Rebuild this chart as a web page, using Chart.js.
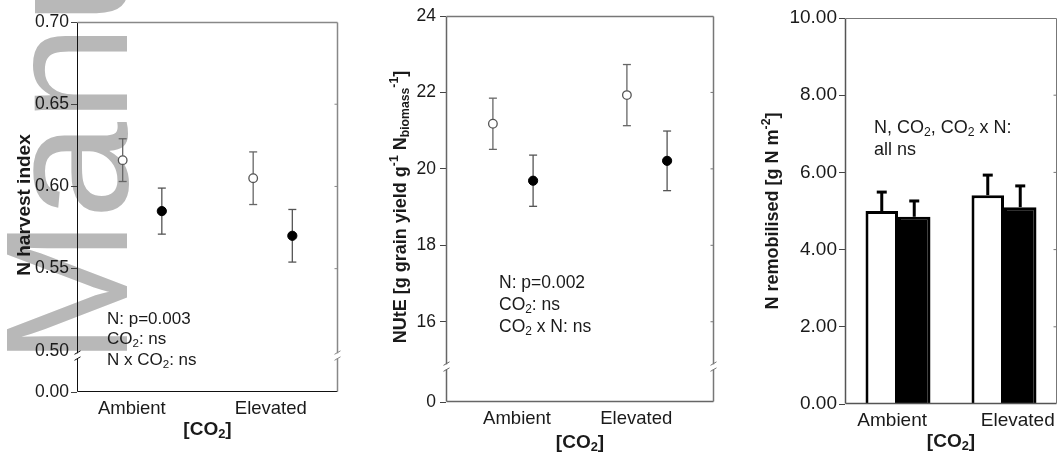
<!DOCTYPE html>
<html>
<head>
<meta charset="utf-8">
<script src="https://cdn.jsdelivr.net/npm/chart.js@4.4.0/dist/chart.umd.min.js"></script>
<style>
    html, body { margin: 0; padding: 0; background: #fff; }
    #wrap { position: relative; width: 1064px; height: 457px; overflow: hidden; }
    canvas { position: absolute; top: 0; }
    #wm { left: 0; }
    #c1 { left: 0; }
    #c2 { left: 360px; }
    #c3 { left: 720px; }
</style>
</head>
<body>
<div id="wrap">
    <canvas id="wm" width="360" height="457" style="width:360px;height:457px"></canvas>
    <canvas id="c1" width="360" height="457" style="width:360px;height:457px"></canvas>
    <canvas id="c2" width="360" height="457" style="width:360px;height:457px"></canvas>
    <canvas id="c3" width="344" height="457" style="width:344px;height:457px"></canvas>
</div>
<script>
// ----- DATA -----
const categories = ['Ambient', 'Elevated'];
const catCentre = [1, 3];          // category centres on the point panels' x axis (0..4)
const pairOffset = 0.3;            // open point left, filled point right

// N harvest index
const nhiOpen = [0.616, 0.605];
const nhiOpenErr = [0.013, 0.016];
const nhiFilled = [0.585, 0.570];
const nhiFilledErr = [0.014, 0.016];
const nhiTicks = [0.475, 0.50, 0.55, 0.60, 0.65, 0.70];
const nhiTickLabels = ['0.00', '0.50', '0.55', '0.60', '0.65', '0.70'];
const nhiBreak = 0.497;
const nhiLabelPos = [0.84, 2.97];

// NUtE
const nuteOpen = [21.18, 21.93];
const nuteOpenErr = [0.67, 0.80];
const nuteFilled = [19.69, 20.21];
const nuteFilledErr = [0.67, 0.78];
const nuteTicks = [13.9, 16, 18, 20, 22, 24];
const nuteTickLabels = ['0', '16', '18', '20', '22', '24'];
const nuteBreak = 14.82;
const nuteLabelPos = [1.06, 2.84];

// N remobilised
const remOpen = [5.00, 5.41];
const remOpenErr = [0.49, 0.52];
const remFilled = [4.85, 5.10];
const remFilledErr = [0.41, 0.55];
const remLabelPos = [0.89, 3.26];

const FONT = '"Liberation Sans", Arial, Helvetica, sans-serif';
const TXT = '#1a1a1a';

// ----- HELPERS -----
// parts: [[text, kind]], kind '' | 'sub' | 'sup'
function drawRich(ctx, parts, x, y, size, weight, align) {
    let w = 0;
    parts.forEach(([t, k]) => {
        ctx.font = `${weight} ${k ? size * 0.68 : size}px ${FONT}`;
        w += ctx.measureText(t).width;
    });
    let cx = align === 'center' ? x - w / 2 : x;
    ctx.textAlign = 'left';
    ctx.textBaseline = 'middle';
    ctx.fillStyle = TXT;
    parts.forEach(([t, k]) => {
        ctx.font = `${weight} ${k ? size * 0.68 : size}px ${FONT}`;
        const dy = k === 'sub' ? size * 0.26 : k === 'sup' ? -size * 0.34 : 0;
        ctx.fillText(t, cx, y + dy);
        cx += ctx.measureText(t).width;
    });
}

function drawRotated(ctx, parts, x, y, size) {
    ctx.save();
    ctx.translate(x, y);
    ctx.rotate(-Math.PI / 2);
    drawRich(ctx, parts, 0, 0, size, 'bold', 'center');
    ctx.restore();
}

function line(ctx, x1, y1, x2, y2) {
    ctx.beginPath();
    ctx.moveTo(x1, y1);
    ctx.lineTo(x2, y2);
    ctx.stroke();
}

function drawPointErrors(chart, errs, colors) {
    const ctx = chart.ctx;
    const ys = chart.scales.y;
    errs.forEach((err, di) => {
        const meta = chart.getDatasetMeta(di);
        const vals = chart.data.datasets[di].data;
        ctx.save();
        ctx.strokeStyle = colors[di];
        ctx.lineWidth = 1.3;
        meta.data.forEach((pt, i) => {
            const top = ys.getPixelForValue(vals[i].y + err[i]);
            const bot = ys.getPixelForValue(vals[i].y - err[i]);
            line(ctx, pt.x, top, pt.x, bot);
            line(ctx, pt.x - 4, top, pt.x + 4, top);
            line(ctx, pt.x - 4, bot, pt.x + 4, bot);
        });
        ctx.restore();
    });
}

function drawBarErrors(chart, errs) {
    const ctx = chart.ctx;
    const ys = chart.scales.y;
    errs.forEach((err, di) => {
        const meta = chart.getDatasetMeta(di);
        const vals = chart.data.datasets[di].data;
        ctx.save();
        ctx.strokeStyle = '#000';
        ctx.lineWidth = 3;
        meta.data.forEach((bar, i) => {
            const base = ys.getPixelForValue(vals[i]);
            const top = ys.getPixelForValue(vals[i] + err[i]);
            line(ctx, bar.x, base, bar.x, top);
            line(ctx, bar.x - 5, top, bar.x + 5, top);
        });
        ctx.restore();
    });
}

function decor(cfg) {
    return {
        id: 'decor',
        beforeDatasetsDraw(chart) {
            if (cfg.pointErrors) drawPointErrors(chart, cfg.pointErrors, cfg.errColors);
        },
        afterDatasetsDraw(chart) {
            if (cfg.barErrors) drawBarErrors(chart, cfg.barErrors);
        },
        afterDraw(chart) {
            const ctx = chart.ctx;
            const a = chart.chartArea;
            const ys = chart.scales.y;
            const L = Math.round(a.left) + 0.5, R = Math.round(a.right) - 0.5;
            const T = Math.round(a.top) + 0.5, B = Math.round(a.bottom) - 0.5;
            ctx.save();
            // frame
            ctx.lineWidth = cfg.frame.w1;
            ctx.strokeStyle = cfg.frame.c1;
            line(ctx, L, T, L, B);
            line(ctx, L, B, R, B);
            ctx.lineWidth = cfg.frame.w2;
            ctx.strokeStyle = cfg.frame.c2;
            line(ctx, L, T, R, T);
            line(ctx, R, T, R, B);
            // inner ticks on the right side
            ctx.lineWidth = 1;
            ys.ticks.forEach(t => {
                const y = ys.getPixelForValue(t.value);
                if (y > a.top + 2 && y < a.bottom - 2 && t.value !== cfg.skipRightTick) line(ctx, R - 3, y, R, y);
            });
            // axis breaks
            if (cfg.breakVal !== undefined) {
                const yb = ys.getPixelForValue(cfg.breakVal);
                [[L, cfg.frame.c1], [R, cfg.frame.c2]].forEach(([x, c]) => {
                    ctx.fillStyle = '#fff';
                    ctx.fillRect(x - 2, yb - 2.5, 4, 5);
                    ctx.strokeStyle = c;
                    ctx.lineWidth = 1;
                    line(ctx, x - 3, yb - 1.5, x + 3, yb - 5);
                    line(ctx, x - 3, yb + 4.5, x + 3, yb + 1);
                });
            }
            ctx.restore();
            // texts
            drawRotated(ctx, cfg.yTitle.parts, cfg.yTitle.x, cfg.yTitle.y, cfg.yTitle.size);
            drawRich(ctx, co2Title, (a.left + a.right) / 2, cfg.xTitleY, 19, 'bold', 'center');
            cfg.notes.lines.forEach((p, i) => {
                drawRich(ctx, p, cfg.notes.x, cfg.notes.y + i * cfg.notes.gap, cfg.notes.size, 'normal', 'left');
            });
        }
    };
}

const co2Title = [['[CO', ''], ['2', 'sub'], [']', '']];

// linear bottom axis used only to place the category names
function labelAxis(pos, height, size, pad) {
    return {
        type: 'linear', position: 'bottom', min: 0, max: 4, offset: false,
        afterBuildTicks: s => { s.ticks = pos.map(v => ({ value: v })); },
        afterFit: s => { s.height = height; },
        ticks: { callback: (v, i) => categories[i], color: TXT, font: { family: FONT, size: size }, padding: pad, autoSkip: false, maxRotation: 0 },
        grid: { display: false, offset: false },
        border: { display: false }
    };
}

function pointChart(id, o) {
    const openPts = categories.map((c, i) => ({ x: catCentre[i] - pairOffset, y: o.open[i] }));
    const filledPts = categories.map((c, i) => ({ x: catCentre[i] + pairOffset, y: o.filled[i] }));
    return new Chart(document.getElementById(id), {
        type: 'scatter',
        data: {
            datasets: [
                { data: openPts, pointRadius: 4.3, pointBackgroundColor: '#fff', pointBorderColor: '#555', pointBorderWidth: 1.3 },
                { data: filledPts, pointRadius: 4.6, pointBackgroundColor: '#000', pointBorderColor: '#000', pointBorderWidth: 1 }
            ]
        },
        options: {
            responsive: false,
            animation: false,
            events: [],
            layout: { padding: { left: 0, top: o.top, right: o.right, bottom: 0 } },
            plugins: { legend: { display: false }, tooltip: { enabled: false } },
            scales: {
                x: labelAxis(o.labelPos, o.xHeight, 18.5, -2),
                y: {
                    type: 'linear', min: o.ticks[0], max: o.ticks[o.ticks.length - 1],
                    afterBuildTicks: s => { s.ticks = o.ticks.map(v => ({ value: v })); },
                    afterFit: s => { s.width = o.yWidth; },
                    ticks: { callback: (v, i) => o.tickLabels[i], color: TXT, font: { family: FONT, size: 17.5 }, padding: o.tickPad },
                    grid: {
                        drawOnChartArea: false, drawTicks: true, tickLength: 6,
                        tickColor: c => (c.tick && c.tick.value === o.skipTick) ? 'rgba(0,0,0,0)' : '#444'
                    },
                    border: { display: false }
                }
            }
        },
        plugins: [decor(o.decor)]
    });
}

// ----- WATERMARK -----
(function () {
    const ctx = document.getElementById('wm').getContext('2d');
    ctx.save();
    ctx.translate(127, 365);
    ctx.rotate(-Math.PI / 2);
    ctx.fillStyle = '#b8b8b8';
    ctx.font = `175px ${FONT}`;
    ctx.textBaseline = 'alphabetic';
    ctx.fillText('Manu', 0, 0);
    ctx.restore();
})();

// ----- PANEL 1: N harvest index -----
pointChart('c1', {
    open: nhiOpen, filled: nhiFilled, labelPos: nhiLabelPos,
    ticks: nhiTicks, tickLabels: nhiTickLabels, skipTick: 0.50,
    top: 22, right: 22, xHeight: 65, yWidth: 77, tickPad: 2,
    decor: {
        pointErrors: [nhiOpenErr, nhiFilledErr], errColors: ['#666', '#555'],
        frame: { c1: '#111', w1: 1, c2: '#888', w2: 1.5 },
        breakVal: nhiBreak, skipRightTick: 0.50,
        yTitle: { parts: [['N harvest index', '']], x: 25, y: 205, size: 19 },
        xTitleY: 430,
        notes: {
            x: 107, y: 319, gap: 20.5, size: 17,
            lines: [
                [['N: p=0.003', '']],
                [['CO', ''], ['2', 'sub'], [': ns', '']],
                [['N x CO', ''], ['2', 'sub'], [': ns', '']]
            ]
        }
    }
});

// ----- PANEL 2: NUtE -----
pointChart('c2', {
    open: nuteOpen, filled: nuteFilled, labelPos: nuteLabelPos,
    ticks: nuteTicks, tickLabels: nuteTickLabels, skipTick: null,
    top: 16, right: 6, xHeight: 55, yWidth: 86, tickPad: 4,
    decor: {
        pointErrors: [nuteOpenErr, nuteFilledErr], errColors: ['#666', '#555'],
        frame: { c1: '#666', w1: 1.5, c2: '#777', w2: 1.5 },
        breakVal: nuteBreak,
        yTitle: {
            parts: [['NUtE [g grain yield g', ''], ['-1', 'sup'], [' N', ''], ['biomass', 'sub'], ['-1', 'sup'], [']', '']],
            x: 41, y: 207, size: 18
        },
        xTitleY: 443,
        notes: {
            x: 139, y: 283, gap: 22, size: 17.5,
            lines: [
                [['N: p=0.002', '']],
                [['CO', ''], ['2', 'sub'], [': ns', '']],
                [['CO', ''], ['2', 'sub'], [' x N: ns', '']]
            ]
        }
    }
});

// ----- PANEL 3: N remobilised -----
new Chart(document.getElementById('c3'), {
    type: 'bar',
    data: {
        labels: categories,
        datasets: [
            { data: remOpen, backgroundColor: '#fff', borderColor: '#000', borderWidth: 3 },
            { data: remFilled, backgroundColor: '#000', borderColor: '#000', borderWidth: 3 }
        ]
    },
    options: {
        responsive: false,
        animation: false,
        events: [],
        categoryPercentage: 0.613,
        barPercentage: 1,
        layout: { padding: { left: 0, top: 18, right: 7, bottom: 0 } },
        plugins: { legend: { display: false }, tooltip: { enabled: false } },
        scales: {
            x: {
                afterFit: s => { s.height = 0; },
                ticks: { display: false },
                grid: { display: false },
                border: { display: false }
            },
            xl: labelAxis(remLabelPos, 53, 19, -3),
            y: {
                min: 0, max: 10,
                afterFit: s => { s.width = 125; },
                ticks: { stepSize: 2, callback: v => v.toFixed(2), color: TXT, font: { family: FONT, size: 19 }, padding: 2 },
                grid: { drawOnChartArea: false, drawTicks: true, tickLength: 6, tickColor: '#444' },
                border: { display: false }
            }
        }
    },
    plugins: [decor({
        barErrors: [remOpenErr, remFilledErr],
        frame: { c1: '#555', w1: 1.5, c2: '#777', w2: 1 },
        yTitle: { parts: [['N remobilised [g N m', ''], ['-2', 'sup'], [']', '']], x: 53, y: 211, size: 18 },
        xTitleY: 442,
        notes: {
            x: 154, y: 128, gap: 22, size: 18,
            lines: [
                [['N, CO', ''], ['2', 'sub'], [', CO', ''], ['2', 'sub'], [' x N:', '']],
                [['all ns', '']]
            ]
        }
    })]
});
</script>
</body>
</html>
